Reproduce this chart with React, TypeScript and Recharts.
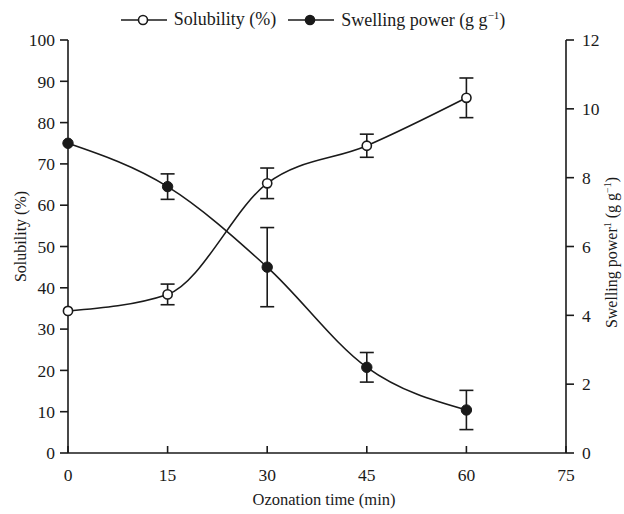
import { ComposedChart, Line, XAxis, YAxis, ErrorBar, Legend } from "recharts";

const FONT = "Liberation Serif, DejaVu Serif, Times New Roman, serif";
const INK = "#1a1a1a";

// ozonation time (min)
const times = [0, 15, 30, 45, 60];
// solubility (%) with SD
const solubility = [34.4, 38.4, 65.3, 74.4, 86.0];
const solubilityErr = [null, 2.5, 3.7, 2.8, 4.8];
// swelling power (g g-1) with SD
const swelling = [9.0, 7.74, 5.4, 2.49, 1.25];
const swellingErr = [null, 0.37, 1.15, 0.43, 0.57];

const xTicks = [0, 15, 30, 45, 60, 75];
const leftTicks = [0, 10, 20, 30, 40, 50, 60, 70, 80, 90, 100];
const rightTicks = [0, 2, 4, 6, 8, 10, 12];

const data = times.map((t, i) => ({
  time: t,
  solubility: solubility[i],
  solubilityErr: solubilityErr[i],
  swelling: swelling[i],
  swellingErr: swellingErr[i],
}));

const tickStyle = { fill: INK, fontSize: 17.5, fontFamily: FONT, style: { fontFamily: FONT } };

function LegendContent() {
  const item = (filled: boolean, label: React.ReactNode) => (
    <div style={{ display: "flex", alignItems: "center", marginRight: 12 }}>
      <svg width={46} height={14}>
        <line x1={0} y1={7} x2={46} y2={7} stroke={INK} strokeWidth={1.6} />
        <circle cx={22} cy={7} r={4.5} fill={filled ? INK : "#fff"} stroke={INK} strokeWidth={1.6} />
      </svg>
      <span style={{ marginLeft: 7 }}>{label}</span>
    </div>
  );
  return (
    <div
      style={{
        height: 40,
        boxSizing: "border-box",
        paddingTop: 9,
        display: "flex",
        justifyContent: "center",
        alignItems: "flex-start",
        fontFamily: FONT,
        fontSize: 18,
        color: INK,
        paddingLeft: 14,
      }}
    >
      {item(false, "Solubility (%)")}
      {item(true, (
        <>
          Swelling power (g g<sup style={{ fontSize: 11 }}>−1</sup>)
        </>
      ))}
    </div>
  );
}

export default function App() {
  return (
    <div style={{ position: "fixed", left: 0, top: 0, width: 624, height: 514, background: "#fff", fontFamily: FONT }}>
      <ComposedChart width={624} height={514} data={data} margin={{ top: 0, right: 0, bottom: 0, left: 0 }} style={{ fontFamily: FONT }}>
        <Legend verticalAlign="top" content={<LegendContent />} />
        <XAxis
          dataKey="time"
          type="number"
          domain={[0, 75]}
          ticks={xTicks}
          height={61}
          tick={tickStyle}
          tickSize={-7}
          tickMargin={23}
          axisLine={{ stroke: INK, strokeWidth: 1.6 }}
          tickLine={{ stroke: INK, strokeWidth: 1.6 }}
          label={{
            content: ({ viewBox }: any) => (
              <text
                x={viewBox.x + viewBox.width / 2 + 7}
                y={viewBox.y + 52}
                textAnchor="middle"
                style={{ fontFamily: FONT }}
                fontSize={16.5}
                fill={INK}
              >
                Ozonation time (min)
              </text>
            ),
          }}
        />
        <YAxis
          yAxisId="left"
          domain={[0, 100]}
          ticks={leftTicks}
          width={68}
          tick={tickStyle}
          tickSize={8}
          tickMargin={5}
          axisLine={{ stroke: INK, strokeWidth: 1.6 }}
          tickLine={{ stroke: INK, strokeWidth: 1.6 }}
          label={{
            content: ({ viewBox }: any) => (
              <text
                transform={`translate(${viewBox.x + 26}, ${viewBox.y + viewBox.height / 2 - 10}) rotate(-90)`}
                textAnchor="middle"
                style={{ fontFamily: FONT }}
                fontSize={16}
                fill={INK}
              >
                Solubility (%)
              </text>
            ),
          }}
        />
        <YAxis
          yAxisId="right"
          orientation="right"
          domain={[0, 12]}
          ticks={rightTicks}
          width={58}
          tick={tickStyle}
          tickSize={8}
          tickMargin={8}
          axisLine={{ stroke: INK, strokeWidth: 1.6 }}
          tickLine={{ stroke: INK, strokeWidth: 1.6 }}
          label={{
            content: ({ viewBox }: any) => (
              <text
                transform={`translate(${viewBox.x + 51}, ${viewBox.y + viewBox.height / 2 + 6}) rotate(-90)`}
                textAnchor="middle"
                style={{ fontFamily: FONT }}
                fontSize={16}
                fill={INK}
              >
                Swelling power
                <tspan dy={-6} fontSize={10}>1</tspan>
                <tspan dy={6}> (g g</tspan>
                <tspan dy={-6} fontSize={10}>−1</tspan>
                <tspan dy={6}>)</tspan>
              </text>
            ),
          }}
        />
        <Line
          yAxisId="left"
          dataKey="solubility"
          type="monotone"
          stroke={INK}
          strokeWidth={1.6}
          dot={{ r: 4.6, fill: "#fff", stroke: INK, strokeWidth: 1.6 }}
          activeDot={false}
          isAnimationActive={false}
        >
          <ErrorBar dataKey="solubilityErr" direction="y" width={7} stroke={INK} strokeWidth={1.6} />
        </Line>
        <Line
          yAxisId="right"
          dataKey="swelling"
          type="monotone"
          stroke={INK}
          strokeWidth={1.6}
          dot={{ r: 5.2, fill: INK, stroke: INK, strokeWidth: 1 }}
          activeDot={false}
          isAnimationActive={false}
        >
          <ErrorBar dataKey="swellingErr" direction="y" width={7} stroke={INK} strokeWidth={1.6} />
        </Line>
      </ComposedChart>
    </div>
  );
}
